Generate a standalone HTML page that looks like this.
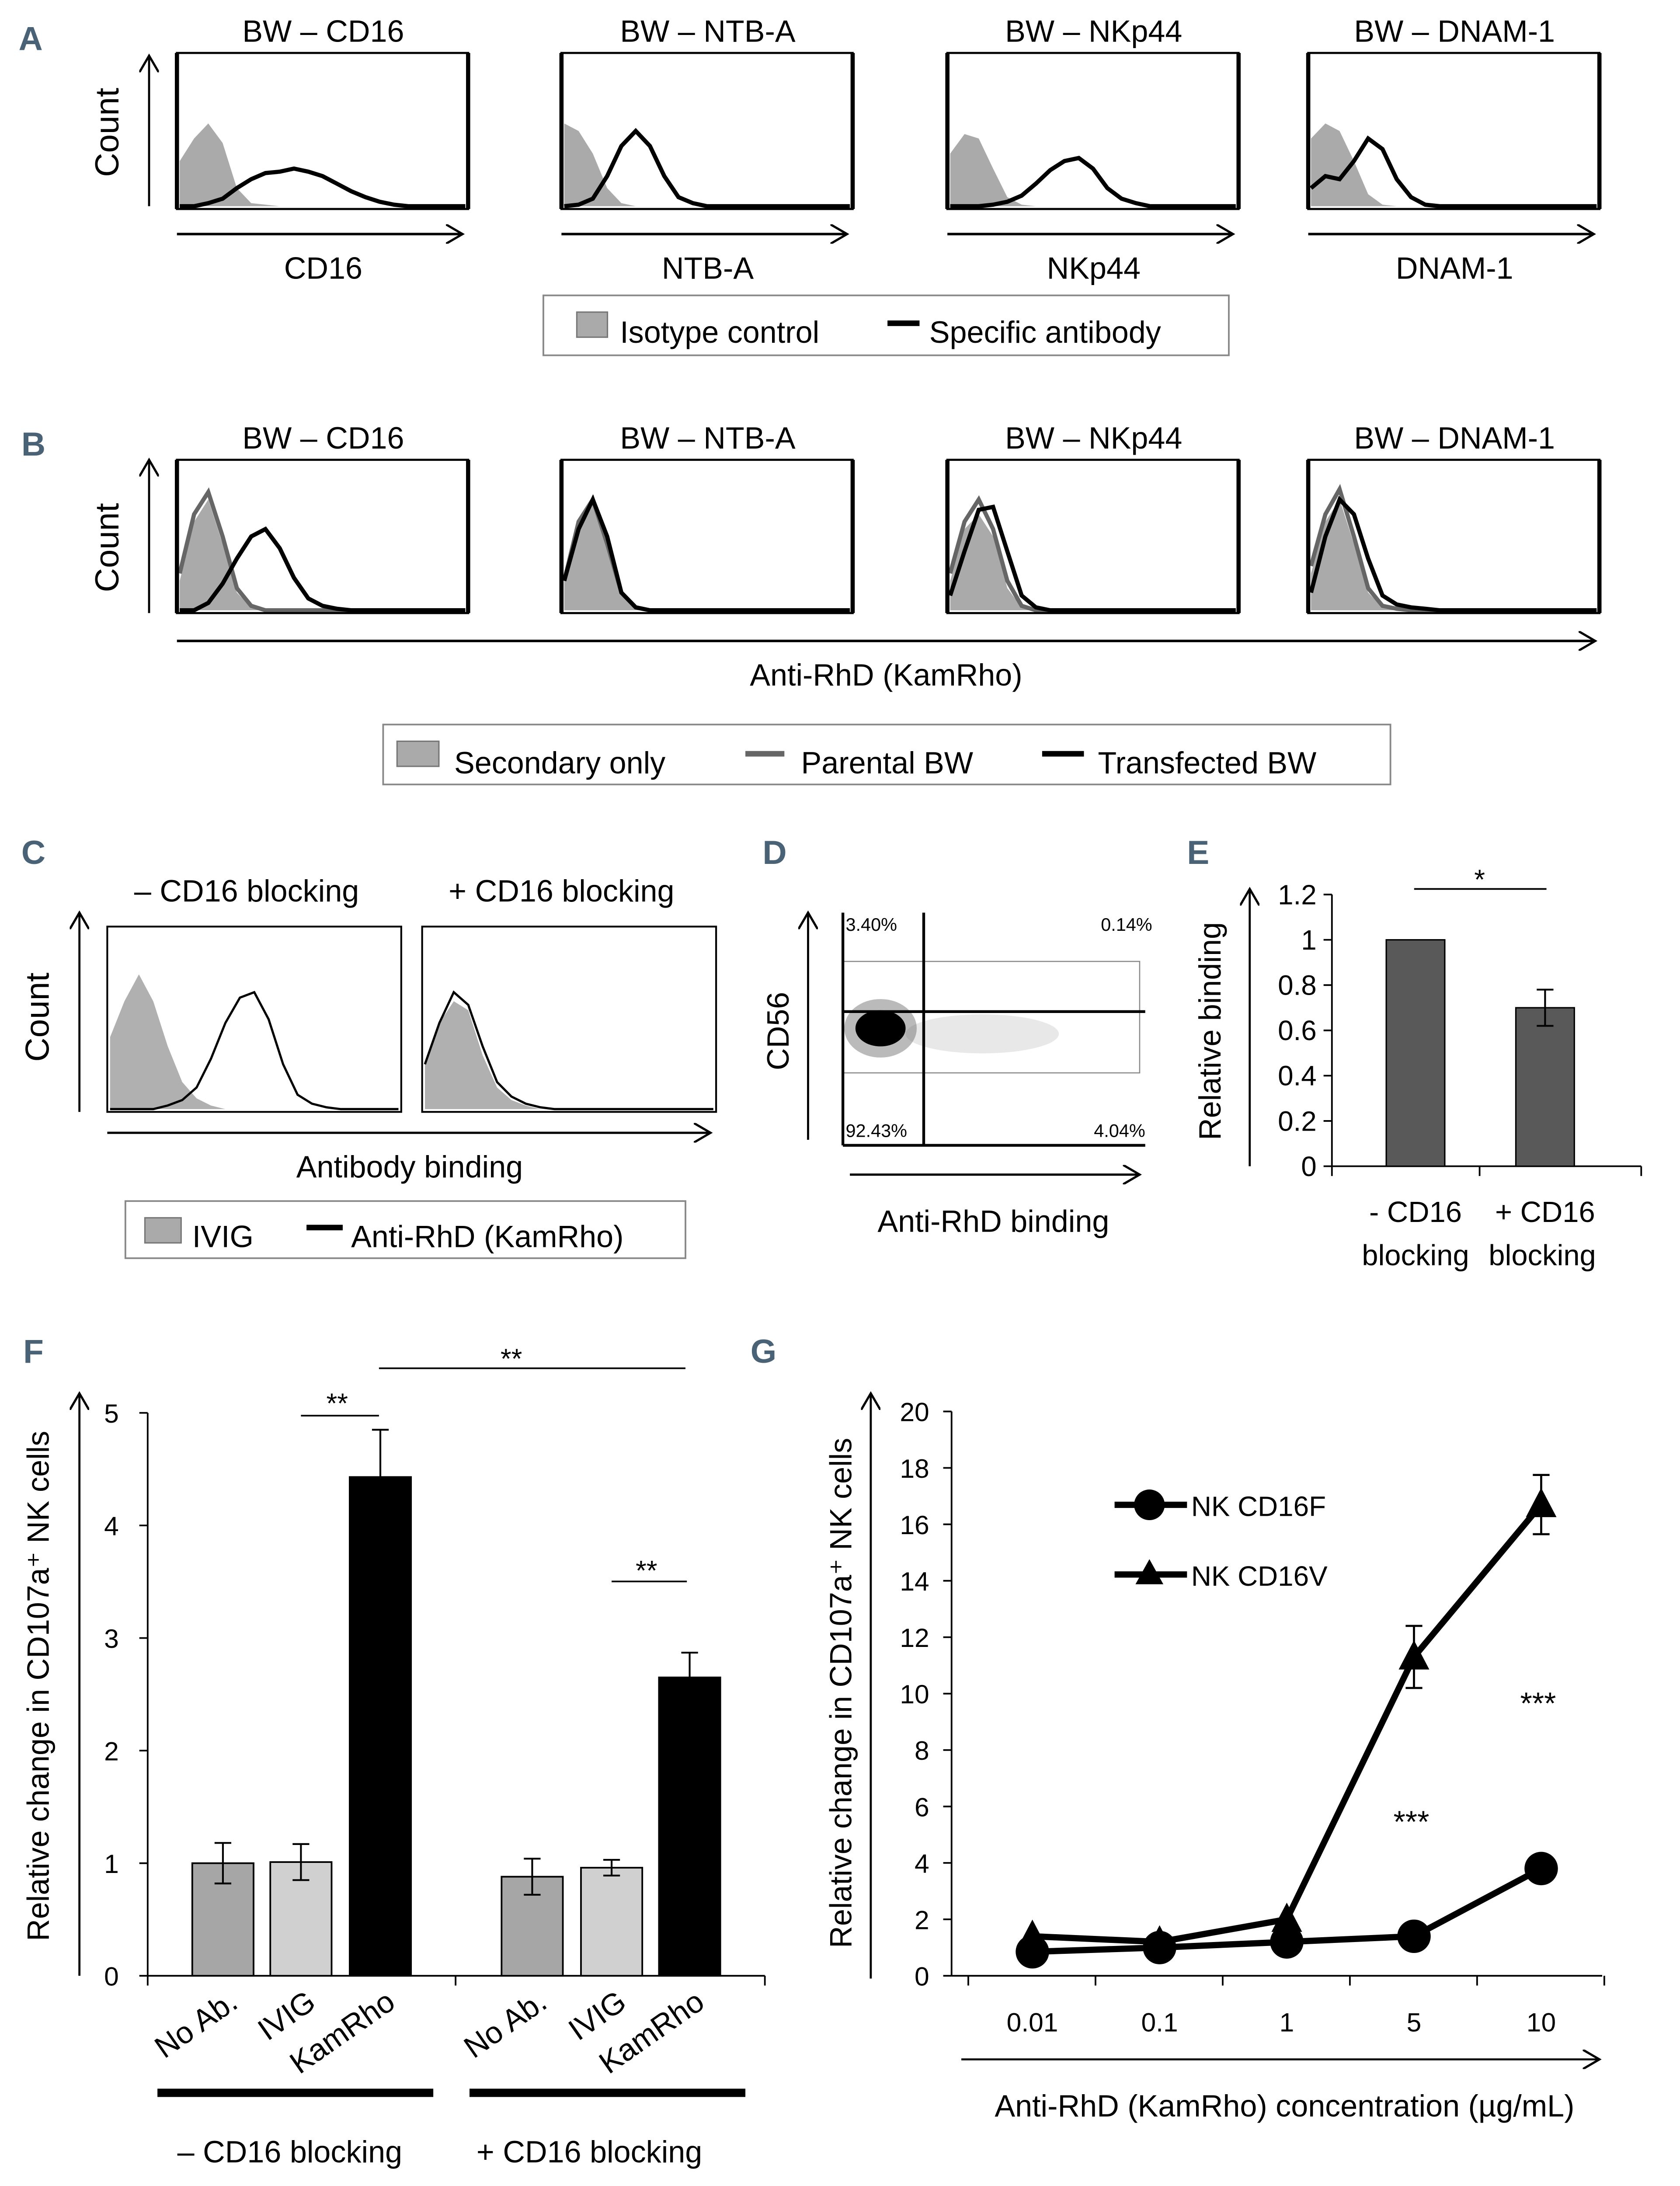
<!DOCTYPE html>
<html><head><meta charset="utf-8"><style>
html,body{margin:0;padding:0;background:#fff;width:3843px;height:5107px;overflow:hidden;}
svg{display:block;position:absolute;left:0;top:0;font-family:"Liberation Sans",Arial,sans-serif;}
.lbl{font-family:"Liberation Sans",sans-serif;fill:#000;}
.pl{font-family:"Liberation Sans",sans-serif;font-weight:bold;fill:#4a6275;font-size:24px;}
</style></head><body>
<svg id="fig" width="3843" height="5107" xmlns="http://www.w3.org/2000/svg">
<defs><marker id="ar" markerWidth="14" markerHeight="14" refX="12" refY="7" orient="auto" markerUnits="userSpaceOnUse"><path d="M0,0 L12,7 L0,14" fill="none" stroke="#000" stroke-width="1.6"/></marker></defs>
<g id="root" transform="scale(3.187)"></g>
</svg>
<script>
// ---------- data ----------
const aGrey = [
 [0.3,0.45,0.55,0.42,0.12,0.02,0.01,0,0,0,0,0,0,0,0,0,0,0,0,0,0],
 [0.55,0.5,0.35,0.12,0.02,0,0,0,0,0,0,0,0,0,0,0,0,0,0,0,0],
 [0.35,0.48,0.45,0.25,0.06,0.01,0,0,0,0,0,0,0,0,0,0,0,0,0,0,0],
 [0.45,0.55,0.5,0.3,0.08,0.01,0,0,0,0,0,0,0,0,0,0,0,0,0,0,0]];
const aBlack = [
 [0,0,0.02,0.05,0.12,0.18,0.22,0.23,0.25,0.23,0.2,0.15,0.1,0.06,0.03,0.01,0,0,0,0,0],
 [0,0.01,0.05,0.2,0.4,0.5,0.4,0.2,0.06,0.02,0,0,0,0,0,0,0,0,0,0,0],
 [0,0,0,0.01,0.03,0.07,0.15,0.24,0.3,0.32,0.25,0.12,0.05,0.02,0,0,0,0,0,0,0],
 [0.12,0.2,0.18,0.3,0.45,0.38,0.18,0.06,0.01,0,0,0,0,0,0,0,0,0,0,0,0]];
const bGrey = [
 [0.2,0.6,0.75,0.45,0.12,0.02,0,0,0,0,0,0,0,0,0,0,0,0,0,0,0],
 [0.2,0.6,0.72,0.45,0.12,0.02,0,0,0,0,0,0,0,0,0,0,0,0,0,0,0],
 [0.2,0.55,0.65,0.5,0.15,0.02,0,0,0,0,0,0,0,0,0,0,0,0,0,0,0],
 [0.25,0.6,0.75,0.45,0.12,0.02,0,0,0,0,0,0,0,0,0,0,0,0,0,0,0]];
const bPar = [
 [0.25,0.65,0.8,0.5,0.15,0.03,0,0,0,0,0,0,0,0,0,0,0,0,0,0,0],
 [0.2,0.6,0.75,0.45,0.12,0.02,0,0,0,0,0,0,0,0,0,0,0,0,0,0,0],
 [0.25,0.6,0.75,0.55,0.2,0.03,0,0,0,0,0,0,0,0,0,0,0,0,0,0,0],
 [0.3,0.65,0.82,0.5,0.15,0.03,0.01,0,0,0,0,0,0,0,0,0,0,0,0,0,0]];
const bBlack = [
 [0,0,0.05,0.18,0.35,0.5,0.55,0.42,0.22,0.08,0.03,0.01,0,0,0,0,0,0,0,0,0],
 [0.2,0.55,0.75,0.5,0.12,0.02,0,0,0,0,0,0,0,0,0,0,0,0,0,0,0],
 [0.1,0.4,0.68,0.7,0.4,0.1,0.02,0,0,0,0,0,0,0,0,0,0,0,0,0,0],
 [0.12,0.5,0.75,0.65,0.35,0.1,0.04,0.02,0.01,0,0,0,0,0,0,0,0,0,0,0,0]];
const cGrey = [
 [0.4,0.6,0.75,0.6,0.35,0.15,0.06,0.02,0,0,0,0,0,0,0,0,0,0,0,0,0],
 [0.25,0.48,0.6,0.55,0.3,0.12,0.05,0.02,0,0,0,0,0,0,0,0,0,0,0,0,0]];
const cBlack = [
 [0,0,0,0,0.02,0.05,0.12,0.28,0.48,0.62,0.65,0.5,0.25,0.08,0.03,0.01,0,0,0,0,0],
 [0.25,0.48,0.65,0.58,0.35,0.15,0.07,0.03,0.01,0,0,0,0,0,0,0,0,0,0,0,0]];
const eCats = ["- CD16\nblocking","+ CD16\nblocking"];
const eVals = [1.0, 0.70];
const eErr = [0, 0.08];
const eTicks = [0,0.2,0.4,0.6,0.8,1,1.2];
const fCats = ["No Ab.","IVIG","KamRho","No Ab.","IVIG","KamRho"];
const fVals = [1.0, 1.01, 4.43, 0.88, 0.96, 2.65];
const fErr = [0.18, 0.16, 0.42, 0.16, 0.07, 0.22];
const fTicks = [0,1,2,3,4,5];
const gCats = ["0.01","0.1","1","5","10"];
const gF = [0.85, 1.0, 1.2, 1.4, 3.8];
const gFerr = [0, 0, 0, 0, 0.4];
const gV = [1.4, 1.2, 2.0, 11.3, 16.7];
const gVerr = [0, 0, 0, 1.1, 1.05];
const gTicks = [0,2,4,6,8,10,12,14,16,18,20];

// ---------- helpers ----------
const NS="http://www.w3.org/2000/svg";
const root=document.getElementById('root');
function el(tag,attrs,parent){const e=document.createElementNS(NS,tag);for(const k in attrs)e.setAttribute(k,attrs[k]);(parent||root).appendChild(e);return e;}
function txt(x,y,s,size,anchor,parent,extra){const t=el('text',Object.assign({x:x,y:y,'font-size':size,'text-anchor':anchor||'middle',class:'lbl'},extra||{}),parent);t.textContent=s;return t;}
function line(x1,y1,x2,y2,w,parent,extra){return el('line',Object.assign({x1:x1,y1:y1,x2:x2,y2:y2,stroke:'#000','stroke-width':w||1.5},extra||{}),parent);}
function histPath(x0,y0,w,h,arr,closed){const n=arr.length-1;let d='';arr.forEach((v,i)=>{const x=x0+2+i*(w-4)/n;const y=y0+h-2-v*(h-4);d+=(i?'L':'M')+x.toFixed(1)+','+y.toFixed(1);});if(closed)d+='L'+(x0+w-2)+','+(y0+h-2)+'L'+(x0+2)+','+(y0+h-2)+'Z';return d;}
function frame(x,y,w,h,g){el('rect',{x:x,y:y,width:w,height:h,fill:'none',stroke:'#000','stroke-width':1.5},g);line(x,y,x,y+h,3,g);line(x+w,y,x+w,y+h,3,g);}

// ---------- panel A ----------
const gA=el('g',{});


txt(22,36,'A',24,'middle',gA,{class:'pl'});
const aTitles=['BW – CD16','BW – NTB-A','BW – NKp44','BW – DNAM-1'];
const aAx=['CD16','NTB-A','NKp44','DNAM-1'];
const aX=[127,403,680,939];
line(107,148,107,40,1.5,gA,{'marker-end':'url(#ar)'});
txt(85,95,'Count',24,'middle',gA,{transform:'rotate(-90 85 95)'});
aX.forEach((x,i)=>{
  const g=el('g',{},gA);
  
  
  txt(x+105,30,aTitles[i],22,'middle',g);
  const p1=el('path',{d:histPath(x,38,209,112,aGrey[i],true),fill:'#aaa'},g);
  
  
  const p2=el('path',{d:histPath(x,38,209,112,aBlack[i],false),fill:'none',stroke:'#000','stroke-width':3},g);
  
  
  frame(x,38,209,112,g);
  line(x,168,x+205,168,1.8,g,{'marker-end':'url(#ar)'});
  txt(x+105,200,aAx[i],22,'middle',g);
});
const legA=el('g',{},gA);


el('rect',{x:390,y:212,width:492,height:43,fill:'#fff',stroke:'#888','stroke-width':1.2},legA);
el('rect',{x:414,y:224,width:22,height:18,fill:'#aaa',stroke:'#777'},legA);
txt(445,246,'Isotype control',22,'start',legA);
line(637,232,660,232,4,legA);
txt(667,246,'Specific antibody',22,'start',legA);

// ---------- panel B ----------
const gB=el('g',{});


txt(24,327,'B',24,'middle',gB,{class:'pl'});
line(107,440,107,330,1.5,gB,{'marker-end':'url(#ar)'});
txt(85,393,'Count',24,'middle',gB,{transform:'rotate(-90 85 393)'});
[127,403,680,939].forEach((x,i)=>{
  const g=el('g',{},gB);
  
  
  txt(x+105,322,aTitles[i],22,'middle',g);
  el('path',{d:histPath(x,330,209,110,bGrey[i],true),fill:'#aaa'},g);
  el('path',{d:histPath(x,330,209,110,bPar[i],false),fill:'none',stroke:'#666','stroke-width':3},g);
  el('path',{d:histPath(x,330,209,110,bBlack[i],false),fill:'none',stroke:'#000','stroke-width':3},g);
  frame(x,330,209,110,g);
});
line(127,460,1145,460,1.8,gB,{'marker-end':'url(#ar)'});
txt(636,492,'Anti-RhD (KamRho)',22,'middle',gB);
const legB=el('g',{},gB);


el('rect',{x:275,y:520,width:723,height:43,fill:'#fff',stroke:'#888','stroke-width':1.2},legB);
el('rect',{x:285,y:532,width:30,height:18,fill:'#aaa',stroke:'#777'},legB);
txt(326,555,'Secondary only',22,'start',legB);
line(535,541,563,541,4,legB,{stroke:'#666'});
txt(575,555,'Parental BW',22,'start',legB);
line(748,541,778,541,4,legB);
txt(788,555,'Transfected BW',22,'start',legB);

// ---------- panel C ----------
const gC=el('g',{});


txt(24,620,'C',24,'middle',gC,{class:'pl'});
line(57,798,57,655,1.5,gC,{'marker-end':'url(#ar)'});
txt(35,730,'Count',24,'middle',gC,{transform:'rotate(-90 35 730)'});
const cX=[77,303];const cT=['– CD16 blocking','+ CD16 blocking'];
cX.forEach((x,i)=>{
  const g=el('g',{},gC);
  
  
  txt(x+100,647,cT[i],22,'middle',g);
  el('path',{d:histPath(x,665,211,133,cGrey[i],true),fill:'#b0b0b0'},g);
  el('path',{d:histPath(x,665,211,133,cBlack[i],false),fill:'none',stroke:'#000','stroke-width':1.6},g);
  el('rect',{x:x,y:665,width:211,height:133,fill:'none',stroke:'#000','stroke-width':1.3},g);
});
line(77,813,510,813,1.6,gC,{'marker-end':'url(#ar)'});
txt(294,845,'Antibody binding',22,'middle',gC);
const legC=el('g',{},gC);


el('rect',{x:90,y:862,width:402,height:41,fill:'#fff',stroke:'#888','stroke-width':1.2},legC);
el('rect',{x:104,y:874,width:26,height:18,fill:'#aaa',stroke:'#777'},legC);
txt(138,895,'IVIG',22,'start',legC);
line(220,881,246,881,4,legC);
txt(252,895,'Anti-RhD (KamRho)',22,'start',legC);

// ---------- panel D ----------
const gD=el('g',{});


txt(556,620,'D',24,'middle',gD,{class:'pl'});
line(580,818,580,655,1.5,gD,{'marker-end':'url(#ar)'});
txt(566,740,'CD56',22,'middle',gD,{transform:'rotate(-90 566 740)'});
el('rect',{x:605,y:690,width:213,height:80,fill:'none',stroke:'#888','stroke-width':0.8},gD);
const cloud=el('g',{},gD);


el('ellipse',{cx:705,cy:742,rx:55,ry:14,fill:'#ccc',opacity:0.45},cloud);
el('ellipse',{cx:632,cy:738,rx:26,ry:21,fill:'#666',opacity:0.45},cloud);
el('ellipse',{cx:632,cy:738,rx:18,ry:13,fill:'#000'},cloud);
line(605,655,605,822,2,gD);line(663,655,663,822,2,gD);
line(605,726,822,726,2,gD);line(605,822,822,822,2,gD);
txt(607,668,'3.40%',13,'start',gD);txt(827,668,'0.14%',13,'end',gD);
txt(607,816,'92.43%',13,'start',gD);txt(822,816,'4.04%',13,'end',gD);
line(610,843,818,843,1.6,gD,{'marker-end':'url(#ar)'});
txt(713,884,'Anti-RhD binding',22,'middle',gD);

// ---------- panel E ----------
const gE=el('g',{});


txt(860,620,'E',24,'middle',gE,{class:'pl'});
const eY=v=>837-v/1.2*195;
line(897,837,897,638,1.5,gE,{'marker-end':'url(#ar)'});
txt(876,740,'Relative binding',22,'middle',gE,{transform:'rotate(-90 876 740)'});
eTicks.forEach(t=>{txt(945,eY(t)+7,String(t),20,'end',gE);line(950,eY(t),956,eY(t),1.2,gE);});
line(956,837,956,eY(1.2),1.2,gE);
line(956,837,1178,837,1.2,gE);
[956,1062,1178].forEach(x=>line(x,837,x,844,1.2,gE));
const eBx=[1016,1109];
eVals.forEach((v,i)=>{
  const r=el('rect',{x:eBx[i]-21,y:eY(v),width:42,height:837-eY(v),fill:'#595959',stroke:'#000','stroke-width':1},gE);
  
  
  if(eErr[i]>0){line(eBx[i],eY(v+eErr[i]),eBx[i],eY(v-eErr[i]),1.3,gE);line(eBx[i]-6,eY(v+eErr[i]),eBx[i]+6,eY(v+eErr[i]),1.3,gE);line(eBx[i]-6,eY(v-eErr[i]),eBx[i]+6,eY(v-eErr[i]),1.3,gE);}
  const parts=eCats[i].split('\n');
  txt(eBx[i],877,parts[0],21,'middle',gE);txt(eBx[i]+(i?-2:0),908,parts[1],21,'middle',gE);
});
line(1015,638,1110,638,1.2,gE);txt(1062,638,'*',20,'middle',gE);

// ---------- panel F ----------
const gF_=el('g',{});


txt(24,978,'F',24,'middle',gF_,{class:'pl'});
const fY=v=>1418-v*80.8;
line(57,1418,57,1000,1.5,gF_,{'marker-end':'url(#ar)'});
txt(35,1210,'Relative change in CD107a⁺ NK cells',22,'middle',gF_,{transform:'rotate(-90 35 1210)'});
line(106,fY(5),106,1418,1.2,gF_);
fTicks.forEach(t=>{line(100,fY(t),106,fY(t),1.2,gF_);txt(80,fY(t)+7,String(t),19,'middle',gF_);});
line(106,1418,549,1418,1.2,gF_);
[106,327,549].forEach(x=>line(x,1418,x,1425,1.2,gF_));
const fBx=[160,216,273,382,439,495];
const fFill=['#a6a6a6','#d0d0d0','#000','#a6a6a6','#d0d0d0','#000'];
fVals.forEach((v,i)=>{
  const r=el('rect',{x:fBx[i]-22,y:fY(v),width:44,height:1418-fY(v),fill:fFill[i],stroke:'#000','stroke-width':1.2},gF_);
  
  
  const e=fErr[i];
  line(fBx[i],fY(v+e),fBx[i],fY(v-e),1.3,gF_);
  line(fBx[i]-6,fY(v+e),fBx[i]+6,fY(v+e),1.3,gF_);
  line(fBx[i]-6,fY(v-e),fBx[i]+6,fY(v-e),1.3,gF_);
  txt(fBx[i]+12,1440,fCats[i],22,'end',gF_,{transform:'rotate(-35 '+(fBx[i]+12)+' 1440)'});
});
line(113,1502,311,1502,6,gF_);line(337,1502,535,1502,6,gF_);
txt(208,1552,'– CD16 blocking',22,'middle',gF_);txt(423,1552,'+ CD16 blocking',22,'middle',gF_);
line(216,1016,272,1016,1.2,gF_);txt(242,1014,'**',20,'middle',gF_);
line(272,982,492,982,1.2,gF_);txt(367,982,'**',20,'middle',gF_);
line(439,1135,493,1135,1.2,gF_);txt(464,1134,'**',20,'middle',gF_);

// ---------- panel G ----------
const gG=el('g',{});


txt(548,978,'G',24,'middle',gG,{class:'pl'});
const gY=v=>1418-v*20.25;
const gX=i=>741+i*91.3;
line(625,1420,625,1000,1.5,gG,{'marker-end':'url(#ar)'});
txt(611,1215,'Relative change in CD107a⁺ NK cells',22,'middle',gG,{transform:'rotate(-90 611 1215)'});
line(683,gY(20),683,1418,1.2,gG);
gTicks.forEach(t=>{line(677,gY(t),683,gY(t),1.2,gG);txt(667,gY(t)+7,String(t),19,'end',gG);});
line(683,1418,1150,1418,1.2,gG);
for(let i=0;i<=5;i++){line(695+i*91.3,1418,695+i*91.3,1425,1.2,gG);}
gCats.forEach((c,i)=>txt(gX(i),1458,c,19,'middle',gG));
function series(vals,errs,name,marker){
  const g=el('g',{},gG);
  
  
  el('polyline',{points:vals.map((v,i)=>gX(i)+','+gY(v)).join(' '),fill:'none',stroke:'#000','stroke-width':4.5},g);
  vals.forEach((v,i)=>{
    if(errs[i]>0){line(gX(i),gY(v+errs[i]),gX(i),gY(v-errs[i]),1.5,g);line(gX(i)-6,gY(v+errs[i]),gX(i)+6,gY(v+errs[i]),1.5,g);line(gX(i)-6,gY(v-errs[i]),gX(i)+6,gY(v-errs[i]),1.5,g);}
    if(marker==='c')el('circle',{cx:gX(i),cy:gY(v),r:12,fill:'#000'},g);
    else{const x=gX(i),y=gY(v);el('path',{d:`M${x},${y-12}L${x+11},${y+9}L${x-11},${y+9}Z`,fill:'#000'},g);}
  });
}
series(gV,gVerr,'series-nk-cd16v','t');
series(gF,gFerr,'series-nk-cd16f','c');
const legG=el('g',{},gG);


line(800,1080,852,1080,4.5,legG);el('circle',{cx:825,cy:1080,r:11,fill:'#000'},legG);txt(855,1088,'NK CD16F',20,'start',legG);
line(800,1130,852,1130,4.5,legG);el('path',{d:'M825,1119L835,1137L815,1137Z',fill:'#000'},legG);txt(855,1138,'NK CD16V',20,'start',legG);
txt(1013,1315,'***',22,'middle',gG);txt(1104,1230,'***',22,'middle',gG);
line(690,1478,1148,1478,1.4,gG,{'marker-end':'url(#ar)'});
txt(922,1519,'Anti-RhD (KamRho) concentration (µg/mL)',22,'middle',gG);
</script>
</body></html>
